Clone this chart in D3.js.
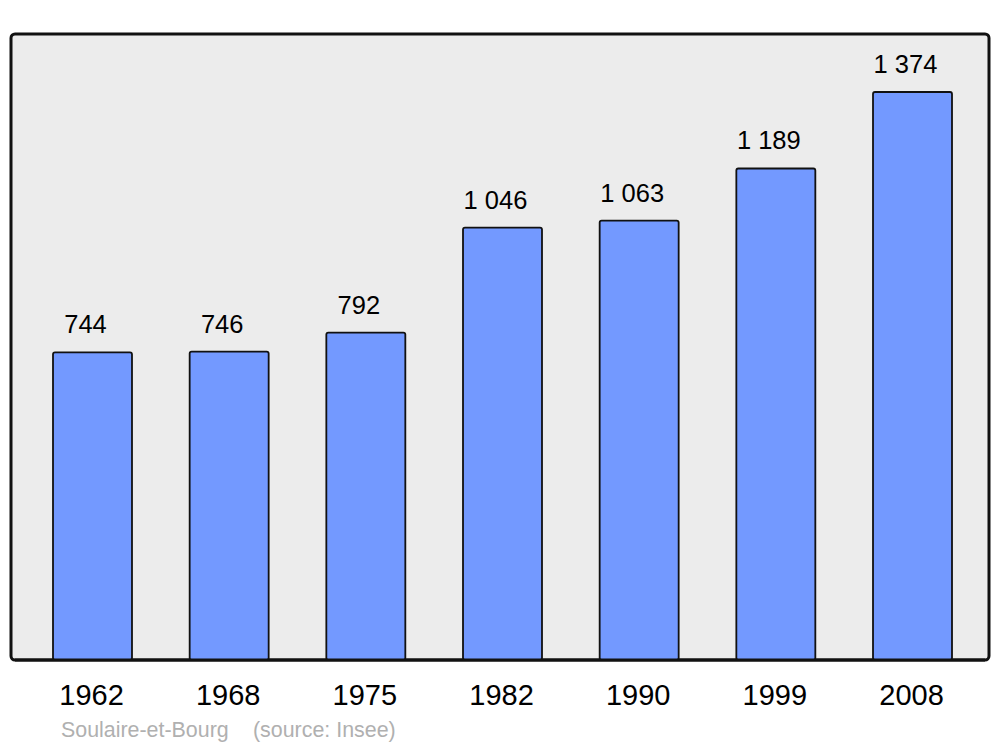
<!DOCTYPE html>
<html>
<head>
<meta charset="utf-8">
<script src="https://cdn.jsdelivr.net/npm/d3@7"></script>
<style>
  body { margin: 0; background: #fff; }
  text { font-family: "Liberation Sans", Arial, sans-serif; }
</style>
</head>
<body>
<div id="chart"></div>
<script>
// population by census year
const years = ["1962", "1968", "1975", "1982", "1990", "1999", "2008"];
const population = [744, 746, 792, 1046, 1063, 1189, 1374];
const placeName = "Soulaire-et-Bourg";
const sourceNote = "(source: Insee)";

const width = 1000, height = 747;
const frame = {left: 11, right: 989, top: 34, bottom: 660};

const svg = d3.select("#chart").append("svg")
  .attr("width", width)
  .attr("height", height);

// background panel
svg.append("rect")
  .attr("x", frame.left)
  .attr("y", frame.top)
  .attr("width", frame.right - frame.left)
  .attr("height", frame.bottom - frame.top)
  .attr("rx", 4)
  .attr("fill", "#ececec")
  .attr("stroke", "#111")
  .attr("stroke-width", 3);

const x = d3.scaleBand()
  .domain(years)
  .range([53, 952])
  .paddingInner(0.422)
  .paddingOuter(0);

const y = d3.scaleLinear()
  .domain([0, 1374])
  .range([frame.bottom, 92]);

const data = years.map((yr, i) => ({year: yr, value: population[i]}));

svg.selectAll(".bar")
  .data(data)
  .enter().append("rect")
  .attr("class", "bar")
  .attr("x", d => x(d.year))
  .attr("y", d => y(d.value))
  .attr("width", x.bandwidth())
  .attr("height", d => y(0) - y(d.value))
  .attr("rx", 2)
  .attr("fill", "#7399ff")
  .attr("stroke", "#111")
  .attr("stroke-width", 1.8);

// redraw bottom border over the bars
svg.append("line")
  .attr("x1", frame.left + 4).attr("x2", frame.right - 4)
  .attr("y1", frame.bottom).attr("y2", frame.bottom)
  .attr("stroke", "#111")
  .attr("stroke-width", 3);

svg.selectAll(".val")
  .data(data)
  .enter().append("text")
  .attr("class", "val")
  .attr("x", d => x(d.year) + x.bandwidth() / 2 - 7)
  .attr("y", d => y(d.value) - 19)
  .attr("text-anchor", "middle")
  .attr("font-size", 25.5)
  .attr("fill", "#000")
  .text(d => d.value >= 1000 ? String(d.value).replace(/(\d)(\d{3})$/, "$1 $2") : d.value);

// year axis
const axis = svg.append("g")
  .attr("transform", "translate(0," + frame.bottom + ")")
  .call(d3.axisBottom(x).tickSize(0).tickPadding(0));
axis.select(".domain").remove();
axis.selectAll("text")
  .attr("y", 45)
  .attr("dy", 0)
  .attr("dx", -1)
  .attr("font-size", 29)
  .attr("font-family", "Liberation Sans, Arial, sans-serif")
  .attr("fill", "#000");

svg.append("text")
  .attr("x", 61)
  .attr("y", 737)
  .attr("font-size", 21.4)
  .attr("fill", "#b0b0b0")
  .text(placeName);

svg.append("text")
  .attr("x", 253)
  .attr("y", 737)
  .attr("font-size", 21.4)
  .attr("fill", "#b0b0b0")
  .text(sourceNote);
</script>
</body>
</html>
